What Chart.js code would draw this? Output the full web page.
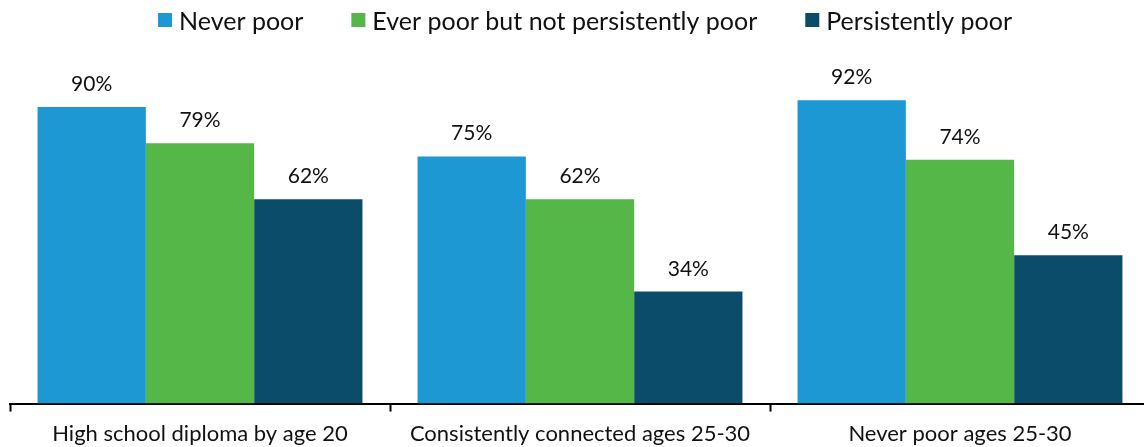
<!DOCTYPE html>
<html>
<head>
<meta charset="utf-8">
<script src="https://cdn.jsdelivr.net/npm/chart.js@4/dist/chart.umd.min.js"></script>
<style>
  html, body { margin: 0; padding: 0; background: #fff; overflow: hidden; }
  #wrap { position: relative; width: 1160px; height: 447px; }
</style>
</head>
<body>
<div id="wrap"><canvas id="myChart"></canvas></div>
<script>
var categories = ['High school diploma by age 20', 'Consistently connected ages 25-30', 'Never poor ages 25-30'];
var neverPoor = [90, 75, 92];
var everPoor = [79, 62, 74];
var persistentlyPoor = [62, 34, 45];
var seriesNames = ['Never poor', 'Ever poor but not persistently poor', 'Persistently poor'];
var seriesColors = ['#1d98d3', '#55b748', '#0a4c6a'];

// value labels above each bar
var barLabels = {
	id: 'barLabels',
	afterDatasetsDraw: function(chart){
		var ctx = chart.ctx;
		ctx.save();
		ctx.font = '21px Lato';
		ctx.fillStyle = '#111';
		ctx.textAlign = 'center';
		ctx.textBaseline = 'alphabetic';
		chart.data.datasets.forEach(function(ds, i){
			var meta = chart.getDatasetMeta(i);
			meta.data.forEach(function(bar, j){
				ctx.fillText(ds.data[j] + '%', bar.x, bar.y - 16);
			});
		});
		ctx.restore();
	}
};

// legend drawn by hand so the spacing can match
var topLegend = {
	id: 'topLegend',
	afterDraw: function(chart){
		var ctx = chart.ctx;
		ctx.save();
		ctx.font = '25px Lato';
		ctx.textBaseline = 'alphabetic';
		ctx.textAlign = 'left';
		var box = 14, gap = 7, between = 48;
		var total = 0;
		chart.data.datasets.forEach(function(ds, i){
			total += box + gap + ctx.measureText(ds.label).width;
			if (i > 0) total += between;
		});
		var x = 585 - total / 2;
		chart.data.datasets.forEach(function(ds, i){
			ctx.fillStyle = ds.backgroundColor;
			ctx.fillRect(x, 13, box, box);
			ctx.fillStyle = '#111';
			ctx.fillText(ds.label, x + box + gap, 29.5);
			x += box + gap + ctx.measureText(ds.label).width + between;
		});
		ctx.restore();
	}
};

var datagraph = {
	labels: categories,
	datasets: [
		{ label: seriesNames[0], data: neverPoor, backgroundColor: seriesColors[0] },
		{ label: seriesNames[1], data: everPoor, backgroundColor: seriesColors[1] },
		{ label: seriesNames[2], data: persistentlyPoor, backgroundColor: seriesColors[2] }
	]
};

var ctx = document.getElementById('myChart').getContext('2d');
var myChart = new Chart(ctx, {
	type: 'bar',
	data: datagraph,
	plugins: [barLabels, topLegend],
	options: {
		responsive: true,
		maintainAspectRatio: false,
		animation: false,
		layout: { padding: { left: 10, right: 10, top: 74, bottom: -9 } },
		datasets: {
			bar: { categoryPercentage: 0.855, barPercentage: 1.0 }
		},
		plugins: {
			legend: { display: false },
			tooltip: { enabled: false }
		},
		scales: {
			x: {
				offset: true,
				grid: {
					offset: true,
					drawOnChartArea: false,
					drawTicks: true,
					tickLength: 8,
					tickWidth: 2,
					tickColor: '#000'
				},
				border: { display: true, color: '#000', width: 2 },
				ticks: {
					font: { family: 'Lato', size: 22 },
					color: '#111',
					padding: 9,
					maxRotation: 0
				}
			},
			y: {
				display: false,
				min: 0,
				max: 100
			}
		}
	}
});
</script>
</body>
</html>
